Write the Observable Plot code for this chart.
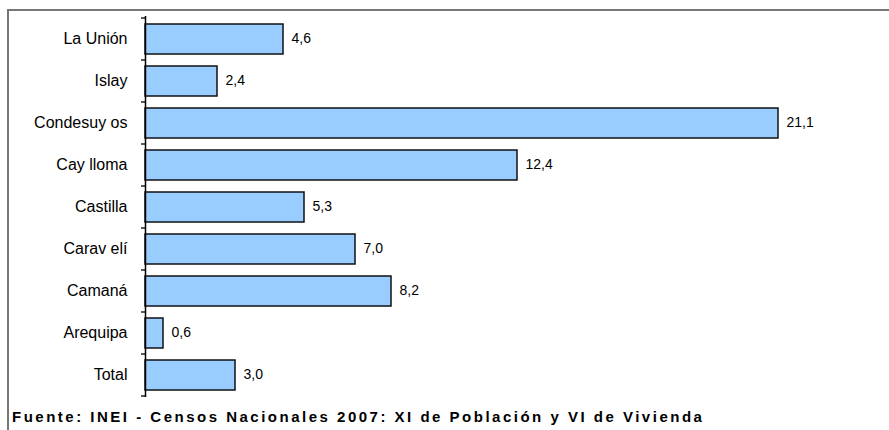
<!DOCTYPE html>
<html>
<head>
<meta charset="utf-8">
<script src="https://cdn.jsdelivr.net/npm/d3@7"></script>
<script src="https://cdn.jsdelivr.net/npm/@observablehq/plot@0.6"></script>
<style>
  html, body { margin: 0; padding: 0; background: #fff; width: 889px; height: 430px; overflow: hidden; }
  #frame { position: absolute; left: 7px; top: 9px; width: 882px; height: 421px;
           border-top: 2px solid #777; border-left: 2px solid #777; box-sizing: border-box; }
  #chart { position: absolute; left: 0; top: 0; }
  #caption { position: absolute; left: 12px; top: 408px; font-family: "Liberation Sans", Arial, sans-serif;
             font-weight: bold; font-size: 15px; letter-spacing: 2.5px; color: #000; white-space: nowrap; }
</style>
</head>
<body>
<div id="frame"></div>
<div id="chart"></div>
<div id="caption">Fuente: INEI - Censos Nacionales 2007: XI de Población y VI de Vivienda</div>
<script>
const categories = ["La Unión", "Islay", "Condesuy os", "Cay lloma", "Castilla", "Carav elí", "Camaná", "Arequipa", "Total"];
const values = [4.6, 2.4, 21.1, 12.4, 5.3, 7.0, 8.2, 0.6, 3.0];

const data = categories.map((c, i) => ({category: c, value: values[i]}));
const fmt = v => v.toFixed(1).replace(".", ",");

// category boundary ticks on the left of the axis
function boundaryTicks(index, scales, values, dimensions) {
  const y = scales.y;
  const x0 = scales.x(0);
  const step = y.step(), bw = y.bandwidth();
  const g = d3.create("svg:g");
  const ys = categories.map(c => y(c) - (step - bw) / 2);
  ys.push(y(categories[categories.length - 1]) + bw + (step - bw) / 2);
  for (const yy of ys) {
    g.append("line").attr("x1", x0 - 4).attr("x2", x0).attr("y1", yy).attr("y2", yy)
      .attr("stroke", "#000").attr("stroke-width", 1.3);
  }
  return g.node();
}

const chart = Plot.plot({
  width: 889,
  height: 405,
  marginLeft: 145,
  marginRight: 0,
  marginTop: 16,
  marginBottom: 8,
  style: {fontFamily: "'Liberation Sans', Arial, sans-serif", background: "transparent"},
  x: {domain: [0, 24.8], axis: null},
  y: {domain: categories, paddingInner: 0.29, paddingOuter: 0.145, align: 0.5, axis: null},
  marks: [
    Plot.barX(data, {x: "value", y: "category", fill: "#99ccff", stroke: "#111", strokeWidth: 1.5}),
    Plot.ruleX([0], {stroke: "#000", strokeWidth: 1.5}),
    boundaryTicks,
    Plot.text(data, {y: "category", x: 0, text: "category", textAnchor: "end", dx: -18, dy: -1, fontSize: 16, fill: "#000", style: "letter-spacing:0.6px"}),
    Plot.text(data, {y: "category", x: "value", text: d => fmt(d.value), textAnchor: "start", dx: 8, dy: -1, fontSize: 14, fill: "#000"})
  ]
});
document.getElementById("chart").appendChild(chart);
</script>
</body>
</html>
